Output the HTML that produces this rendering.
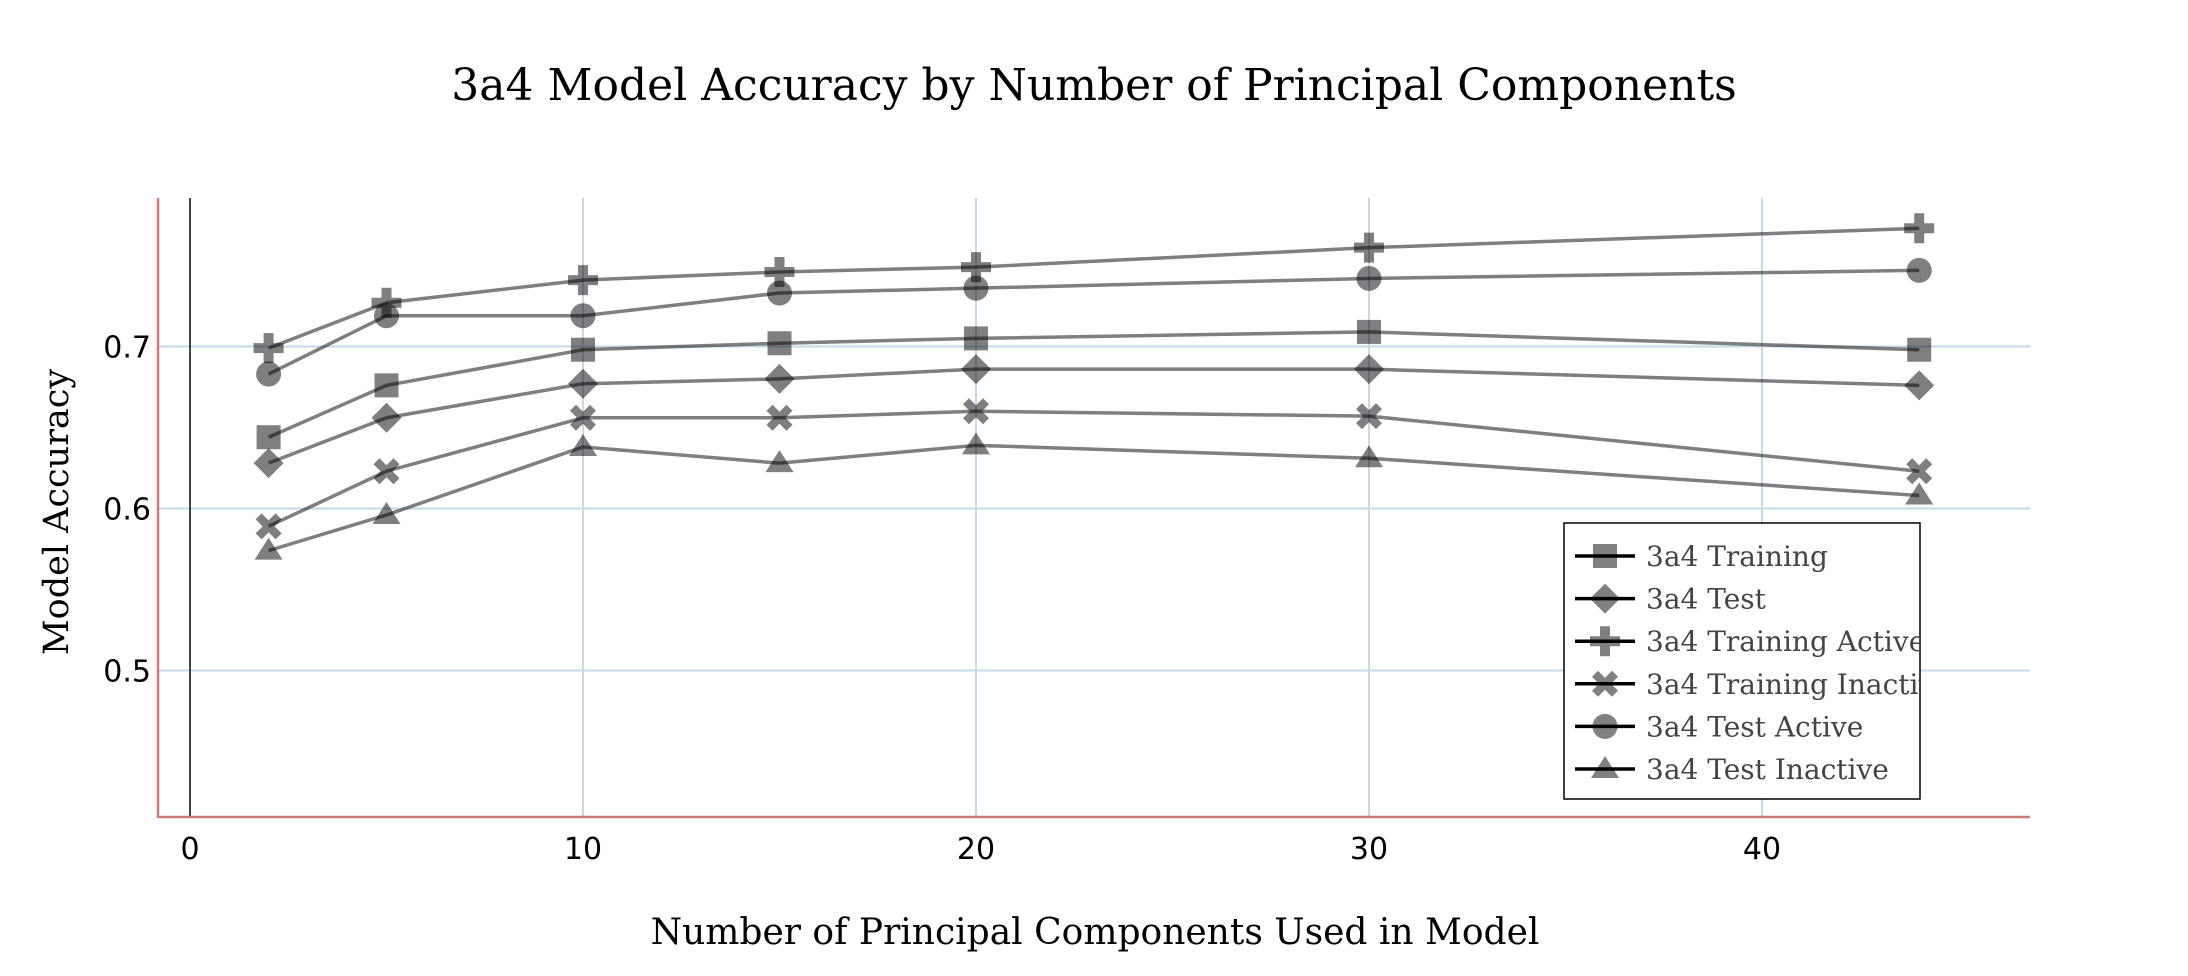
<!DOCTYPE html>
<html><head><meta charset="utf-8"><style>
html,body{margin:0;padding:0;background:#fff;}
svg{display:block;}
</style></head><body>
<svg id="chart" width="2188" height="976" viewBox="0 0 2188 976" xmlns="http://www.w3.org/2000/svg">
<text x="1094" y="100" text-anchor="middle" font-family="'DejaVu Serif','Liberation Serif',serif" font-size="44">3a4 Model Accuracy by Number of Principal Components</text>
<text x="1095" y="944" text-anchor="middle" font-family="'DejaVu Serif','Liberation Serif',serif" font-size="36">Number of Principal Components Used in Model</text>
<text transform="translate(68,512) rotate(-90)" text-anchor="middle" font-family="'DejaVu Serif','Liberation Serif',serif" font-size="35">Model Accuracy</text>
<g id="grid"></g>
<g id="axes"></g>
<g id="series"></g>
<g id="legend"></g>
</svg>
<script>
const xValues = [2, 5, 10, 15, 20, 30, 44];
const seriesNames = ["3a4 Training", "3a4 Test", "3a4 Training Active", "3a4 Training Inactive", "3a4 Test Active", "3a4 Test Inactive"];
const seriesMarkers = ["square", "diamond", "plus", "x", "circle", "triangle"];
const training = [0.644, 0.676, 0.698, 0.702, 0.705, 0.709, 0.698];
const test = [0.628, 0.656, 0.677, 0.680, 0.686, 0.686, 0.676];
const trainingActive = [0.699, 0.727, 0.741, 0.746, 0.749, 0.761, 0.773];
const trainingInactive = [0.589, 0.623, 0.656, 0.656, 0.660, 0.657, 0.623];
const testActive = [0.683, 0.719, 0.719, 0.733, 0.736, 0.742, 0.747];
const testInactive = [0.574, 0.596, 0.638, 0.628, 0.639, 0.631, 0.608];
const xTicks = [0, 10, 20, 30, 40];
const yTicks = [0.5, 0.6, 0.7];
const xTickLabels = ["0", "10", "20", "30", "40"];
const yTickLabels = ["0.5", "0.6", "0.7"];

const NS = "http://www.w3.org/2000/svg";
const plotL = 158, plotR = 2030, plotT = 198, plotB = 817;
function sx(v){ return 190 + v * 39.3; }
function sy(v){ return 346.5 - (v - 0.7) * 1620; }
function mk(tag, attrs, parent){
  const e = document.createElementNS(NS, tag);
  for (const k in attrs) e.setAttribute(k, attrs[k]);
  parent.appendChild(e);
  return e;
}
const grid = document.getElementById('grid');
const axes = document.getElementById('axes');
const seriesG = document.getElementById('series');
const legendG = document.getElementById('legend');

xTicks.forEach((t, i) => {
  if (t !== 0) {
    const g = mk('line', {x1: sx(t), x2: sx(t), y1: plotT, y2: plotB, stroke: '#c3dbe8', 'stroke-width': 2}, grid);
    
    
  }
  const lb = mk('text', {x: sx(t), y: 859, 'text-anchor': 'middle', 'font-family': "'DejaVu Sans','Liberation Sans',sans-serif", 'font-size': 30}, axes);
  lb.textContent = xTickLabels[i];
  
  
});
yTicks.forEach((t, i) => {
  const g = mk('line', {x1: plotL, x2: plotR, y1: sy(t), y2: sy(t), stroke: '#c3dbe8', 'stroke-width': 2}, grid);
  
  
  const lb = mk('text', {x: 151, y: sy(t) + 11, 'text-anchor': 'end', 'font-family': "'DejaVu Sans','Liberation Sans',sans-serif", 'font-size': 30}, axes);
  lb.textContent = yTickLabels[i];
  
  
});
const zl = mk('line', {x1: sx(0), x2: sx(0), y1: plotT, y2: plotB, stroke: '#444', 'stroke-width': 2}, axes);


const ls = mk('line', {x1: plotL, x2: plotL, y1: plotT, y2: plotB + 1, stroke: '#cd7a7a', 'stroke-width': 2.5}, axes);


const bs = mk('line', {x1: plotL, x2: plotR, y1: plotB, y2: plotB, stroke: '#cd7a7a', 'stroke-width': 2.5}, axes);



function marker(type, cx, cy, parent, fill){
  let e;
  if (type === 'square') e = mk('rect', {x: cx - 12, y: cy - 12, width: 24, height: 24}, parent);
  else if (type === 'circle') e = mk('circle', {cx: cx, cy: cy, r: 12.5}, parent);
  else if (type === 'diamond') e = mk('polygon', {points: `${cx},${cy-15} ${cx+15},${cy} ${cx},${cy+15} ${cx-15},${cy}`}, parent);
  else if (type === 'triangle') e = mk('polygon', {points: `${cx},${cy-13} ${cx+14},${cy+9} ${cx-14},${cy+9}`}, parent);
  else if (type === 'plus') e = mk('path', {d: `M${cx-5},${cy-15}h10v10h10v10h-10v10h-10v-10h-10v-10h10z`}, parent);
  else e = mk('path', {d: `M${cx-13},${cy-7}l6,-6l7,7l7,-7l6,6l-7,7l7,7l-6,6l-7,-7l-7,7l-6,-6l7,-7z`}, parent);
  e.setAttribute('fill', fill);
  return e;
}

const allSeries = [training, test, trainingActive, trainingInactive, testActive, testInactive];
allSeries.forEach((vals, si) => {
  const g = mk('g', {}, seriesG);
  
  
  const pts = vals.map((v, i) => sx(xValues[i]) + ',' + sy(v)).join(' ');
  const pl = mk('polyline', {points: pts, fill: 'none', stroke: 'rgba(0,0,0,0.5)', 'stroke-width': 3.5, 'stroke-linejoin': 'round'}, g);
  
  
  vals.forEach((v, i) => {
    const m = marker(seriesMarkers[si], sx(xValues[i]), sy(v), g, 'rgba(0,0,0,0.5)');
    
    
  });
});

// legend
const clip = mk('clipPath', {id: 'legclip'}, legendG);
mk('rect', {x: 1564, y: 523, width: 356, height: 276}, clip);
const box = mk('rect', {x: 1564, y: 523, width: 356, height: 276, fill: '#fff', stroke: '#000', 'stroke-width': 1.5}, legendG);


seriesNames.forEach((name, i) => {
  const y = 556 + i * 42.6;
  const g = mk('g', {'clip-path': 'url(#legclip)'}, legendG);
  
  
  marker(seriesMarkers[i], 1605, y, g, '#808080');
  mk('line', {x1: 1575, x2: 1635, y1: y, y2: y, stroke: '#000', 'stroke-width': 3.5}, g);
  const t = mk('text', {x: 1646, y: y + 10, 'font-family': "'DejaVu Serif','Liberation Serif',serif", 'font-size': 28, fill: '#444'}, g);
  t.textContent = name;
});
</script>
</body></html>
